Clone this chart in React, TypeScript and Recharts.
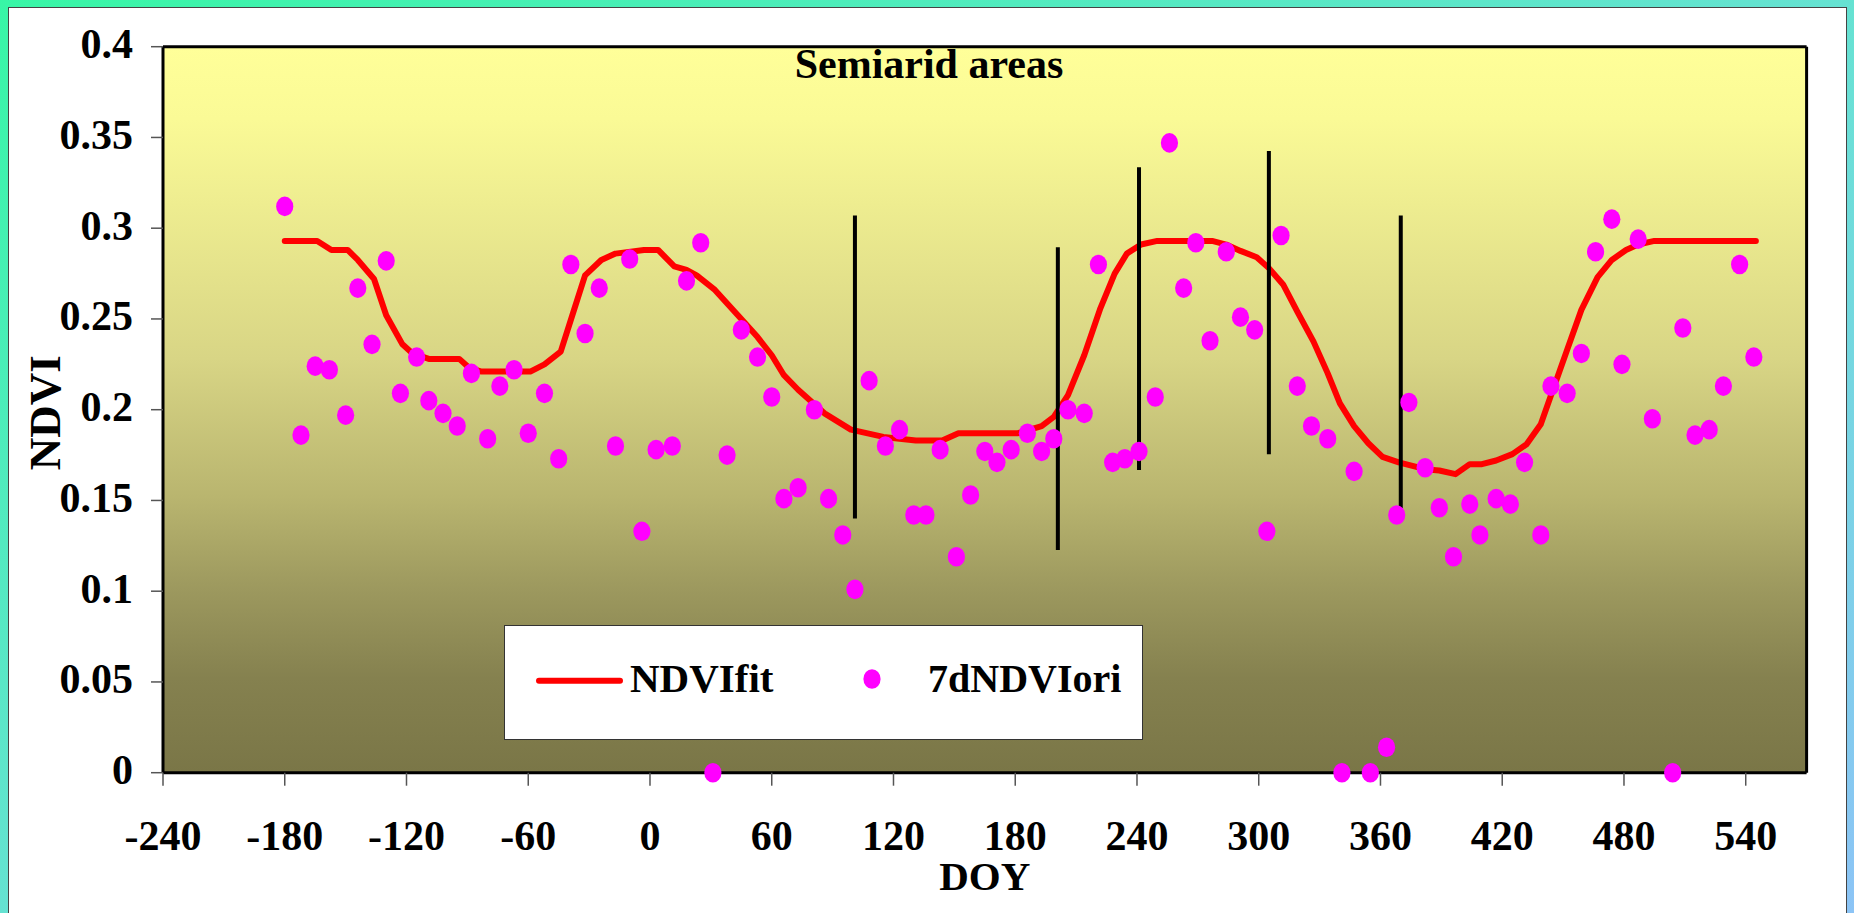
import React from 'react';
import {
  ComposedChart,
  Line,
  Scatter,
  XAxis,
  YAxis,
  CartesianGrid,
  ReferenceLine,
  Legend,
} from 'recharts';

// ---- data ----
const xTicks = [-240, -180, -120, -60, 0, 60, 120, 180, 240, 300, 360, 420, 480, 540];
const yTicks = [0, 0.05, 0.1, 0.15, 0.2, 0.25, 0.3, 0.35, 0.4];

const fitDoy = [
  -180, -164, -157, -149, -144, -136, -130, -122, -117, -109,
  -94, -89, -83, -59, -52, -44, -38, -32, -24, -17,
  -3, 4, 12, 18, 23, 32, 45, 53, 60, 66,
  73, 86, 99, 115, 131, 144, 152, 181, 193, 199,
  206, 214, 222, 229, 235, 242, 250, 277, 284, 291,
  299, 305, 312, 319, 327, 334, 340, 347, 354, 361,
  369, 383, 389, 397, 404, 410, 417, 425, 432, 439,
  445, 452, 459, 467, 474, 481, 487, 495, 545,
];
const fitNdvi = [
  0.293, 0.293, 0.288, 0.288, 0.2825, 0.272, 0.252, 0.236, 0.231, 0.228,
  0.228, 0.223, 0.221, 0.221, 0.225, 0.232, 0.253, 0.274, 0.2825, 0.286,
  0.288, 0.288, 0.279, 0.277, 0.274, 0.266, 0.25, 0.24, 0.23, 0.219,
  0.211, 0.198, 0.189, 0.185, 0.183, 0.183, 0.187, 0.187, 0.191, 0.196,
  0.208, 0.23, 0.256, 0.275, 0.286, 0.291, 0.293, 0.293, 0.291, 0.2875,
  0.284, 0.278, 0.269, 0.254, 0.2375, 0.22, 0.2035, 0.191, 0.1815, 0.174,
  0.171, 0.167, 0.1665, 0.1645, 0.17, 0.17, 0.172, 0.1755, 0.181, 0.192,
  0.211, 0.233, 0.255, 0.273, 0.2825, 0.288, 0.291, 0.293, 0.293,
];

const oriDoy = [
  -180, -172, -165, -158, -150, -144, -137, -130, -123, -115,
  -109, -102, -95, -88, -80, -74, -67, -60, -52, -45,
  -39, -32, -25, -17, -10, -4, 3, 11, 18, 25,
  31, 38, 45, 53, 60, 66, 73, 81, 88, 95,
  101, 108, 116, 123, 130, 136, 143, 151, 158, 165,
  171, 178, 186, 193, 199, 206, 214, 221, 228, 234,
  241, 249, 256, 263, 269, 276, 284, 291, 298, 304,
  311, 319, 326, 334, 341, 347, 355, 363, 368, 374,
  382, 389, 396, 404, 409, 417, 424, 431, 439, 444,
  452, 459, 466, 474, 479, 487, 494, 504, 509, 515,
  522, 529, 537, 544,
];
const oriNdvi = [
  0.312, 0.186, 0.224, 0.222, 0.197, 0.267, 0.236, 0.282, 0.209, 0.229,
  0.205, 0.198, 0.191, 0.22, 0.184, 0.213, 0.222, 0.187, 0.209, 0.173,
  0.28, 0.242, 0.267, 0.18, 0.283, 0.133, 0.178, 0.18, 0.271, 0.292,
  0, 0.175, 0.244, 0.229, 0.207, 0.151, 0.157, 0.2, 0.151, 0.131,
  0.101, 0.216, 0.18, 0.189, 0.142, 0.142, 0.178, 0.119, 0.153, 0.177,
  0.171, 0.178, 0.187, 0.177, 0.184, 0.2, 0.198, 0.28, 0.171, 0.173,
  0.177, 0.207, 0.347, 0.267, 0.292, 0.238, 0.287, 0.251, 0.244, 0.133,
  0.296, 0.213, 0.191, 0.184, 0, 0.166, 0, 0.014, 0.142, 0.204,
  0.168, 0.146, 0.119, 0.148, 0.131, 0.151, 0.148, 0.171, 0.131, 0.213,
  0.209, 0.231, 0.287, 0.305, 0.225, 0.294, 0.195, 0, 0.245, 0.186,
  0.189, 0.213, 0.28, 0.229,
];

const markerDoy = [101, 201, 241, 305, 370];
const markerTop = [0.307, 0.2895, 0.3336, 0.3425, 0.307];
const markerBottom = [0.14, 0.1227, 0.1668, 0.1754, 0.14];

const fitData = fitDoy.map((d, i) => ({ doy: d, ndvi: fitNdvi[i] }));
const oriData = oriDoy.map((d, i) => ({ doy: d, ndvi: oriNdvi[i] }));

const FONT = '"Liberation Serif", "Times New Roman", serif';

const YTick = (props: any) => {
  const { x, y, payload } = props;
  return (
    <text x={x} y={y + 11.5} textAnchor="end" fontFamily={FONT} fontWeight="bold" fontSize={42} fill="#000">
      {String(payload.value)}
    </text>
  );
};

const XTick = (props: any) => {
  const { x, y, payload } = props;
  return (
    <text x={x} y={y + 62} textAnchor="middle" fontFamily={FONT} fontWeight="bold" fontSize={42} fill="#000">
      {String(payload.value)}
    </text>
  );
};

const Dot = (props: any) => {
  const { cx, cy } = props;
  if (cx == null || cy == null) return null;
  return <ellipse cx={cx} cy={cy} rx={8.6} ry={9.8} fill="#ff00ff" />;
};

const LegendBox = (props: any) => {
  const payload = props.payload || [];
  const lineEntry = payload.find((p: any) => p.type === 'line') || { value: 'NDVIfit' };
  const dotEntry = payload.find((p: any) => p.type !== 'line') || { value: '7dNDVIori' };
  return (
    <div
      style={{
        width: 639,
        height: 115,
        boxSizing: 'border-box',
        background: '#fff',
        border: '1.5px solid #333',
        position: 'relative',
      }}
    >
      <svg width={639} height={115} style={{ position: 'absolute', left: -1.5, top: -1.5 }}>
        <line x1={35} y1={55.7} x2={116} y2={55.7} stroke="#ff0000" strokeWidth={6} strokeLinecap="round" />
        <text x={126} y={66.7} fontFamily={FONT} fontWeight="bold" fontSize={41} fill="#000">
          {lineEntry.value}
        </text>
        <ellipse cx={368} cy={54} rx={8.6} ry={9.8} fill="#ff00ff" />
        <text x={424} y={66.7} fontFamily={FONT} fontWeight="bold" fontSize={40} fill="#000">
          {dotEntry.value}
        </text>
      </svg>
    </div>
  );
};

// frame lines at the plot-area edges (computed from the chart's own offset)
const frameH = (p: any) => {
  const o = p.offset;
  return [o.top, o.top + o.height];
};
const frameV = (p: any) => {
  const o = p.offset;
  return [o.left, o.left + o.width];
};

export default function App() {
  return (
    <div
      style={{
        position: 'absolute',
        left: 0,
        top: 0,
        width: 1854,
        height: 913,
        overflow: 'hidden',
        background: 'linear-gradient(to bottom right, #38f6a6 0%, #6ae0d6 55%, #8cc4f6 100%)',
      }}
    >
      <div
        style={{
          position: 'absolute',
          left: 8,
          top: 7,
          width: 1839,
          height: 930,
          boxSizing: 'border-box',
          background: '#fff',
          border: '1.5px solid #444',
        }}
      />
      <div style={{ position: 'absolute', left: 0, top: 0 }}>
        <ComposedChart
          width={1854}
          height={913}
          margin={{ top: 46.7, right: 47.4, bottom: 0, left: 0 }}
        >
          <defs>
            <linearGradient id="plotBg" x1="0" y1="0" x2="0" y2="1">
              <stop offset="0%" stopColor="#FFFF99" />
              <stop offset="10%" stopColor="#FAFA96" />
              <stop offset="43%" stopColor="#D8D585" />
              <stop offset="62%" stopColor="#B9B56F" />
              <stop offset="75%" stopColor="#9C985E" />
              <stop offset="87%" stopColor="#85814F" />
              <stop offset="100%" stopColor="#7A7647" />
            </linearGradient>
          </defs>
          <CartesianGrid
            fill="url(#plotBg)"
            fillOpacity={1}
            stroke="#000"
            strokeWidth={3}
            strokeOpacity={1}
            horizontalCoordinatesGenerator={frameH}
            verticalCoordinatesGenerator={frameV}
          />
          <XAxis
            type="number"
            dataKey="doy"
            domain={[-240, 570]}
            ticks={xTicks}
            height={140.3}
            tickSize={13}
            tickLine={{ stroke: '#555', strokeWidth: 1.5 }}
            axisLine={false}
            tick={<XTick />}
            interval={0}
            label={{
              value: 'DOY',
              content: (p: any) => {
                const vb = p.viewBox || { x: 163, y: 772.7, width: 1643.6 };
                return (
                  <text
                    x={vb.x + vb.width / 2}
                    y={vb.y + 117.3}
                    textAnchor="middle"
                    fontFamily={FONT}
                    fontWeight="bold"
                    fontSize={41}
                    fill="#000"
                  >
                    DOY
                  </text>
                );
              },
            }}
          />
          <YAxis
            type="number"
            domain={[0, 0.4]}
            ticks={yTicks}
            width={163}
            tickSize={12}
            tickMargin={18}
            tickLine={{ stroke: '#555', strokeWidth: 1.5 }}
            axisLine={false}
            tick={<YTick />}
            interval={0}
            label={{
              value: 'NDVI',
              content: (p: any) => {
                const vb = p.viewBox || { x: 0, y: 46.7, height: 726 };
                const cy = vb.y + vb.height / 2 + 3;
                return (
                  <text
                    transform={`translate(60, ${cy}) rotate(-90)`}
                    x={0}
                    y={0}
                    textAnchor="middle"
                    fontFamily={FONT}
                    fontWeight="bold"
                    fontSize={45}
                    fill="#000"
                  >
                    NDVI
                  </text>
                );
              },
            }}
          />
          <Line
            data={fitData}
            dataKey="ndvi"
            name="NDVIfit"
            type="linear"
            stroke="#ff0000"
            strokeWidth={6}
            strokeLinecap="round"
            strokeLinejoin="round"
            dot={false}
            activeDot={false}
            isAnimationActive={false}
            legendType="line"
          />
          <Scatter
            data={oriData}
            dataKey="ndvi"
            name="7dNDVIori"
            fill="#ff00ff"
            shape={<Dot />}
            isAnimationActive={false}
            legendType="circle"
          />
          {markerDoy.map((d, i) => (
            <ReferenceLine
              key={`m${i}`}
              segment={[
                { x: d, y: markerTop[i] },
                { x: d, y: markerBottom[i] },
              ]}
              stroke="#000"
              strokeWidth={4}
              ifOverflow="visible"
            />
          ))}
          <text
            x={929}
            y={78}
            textAnchor="middle"
            fontFamily={FONT}
            fontWeight="bold"
            fontSize={42}
            fill="#000"
          >
            Semiarid areas
          </text>
          <Legend
            layout="horizontal"
            verticalAlign="middle"
            align="center"
            content={<LegendBox />}
            wrapperStyle={{ position: 'absolute', left: 504, top: 625, width: 639, height: 115 }}
          />
        </ComposedChart>
      </div>
    </div>
  );
}
